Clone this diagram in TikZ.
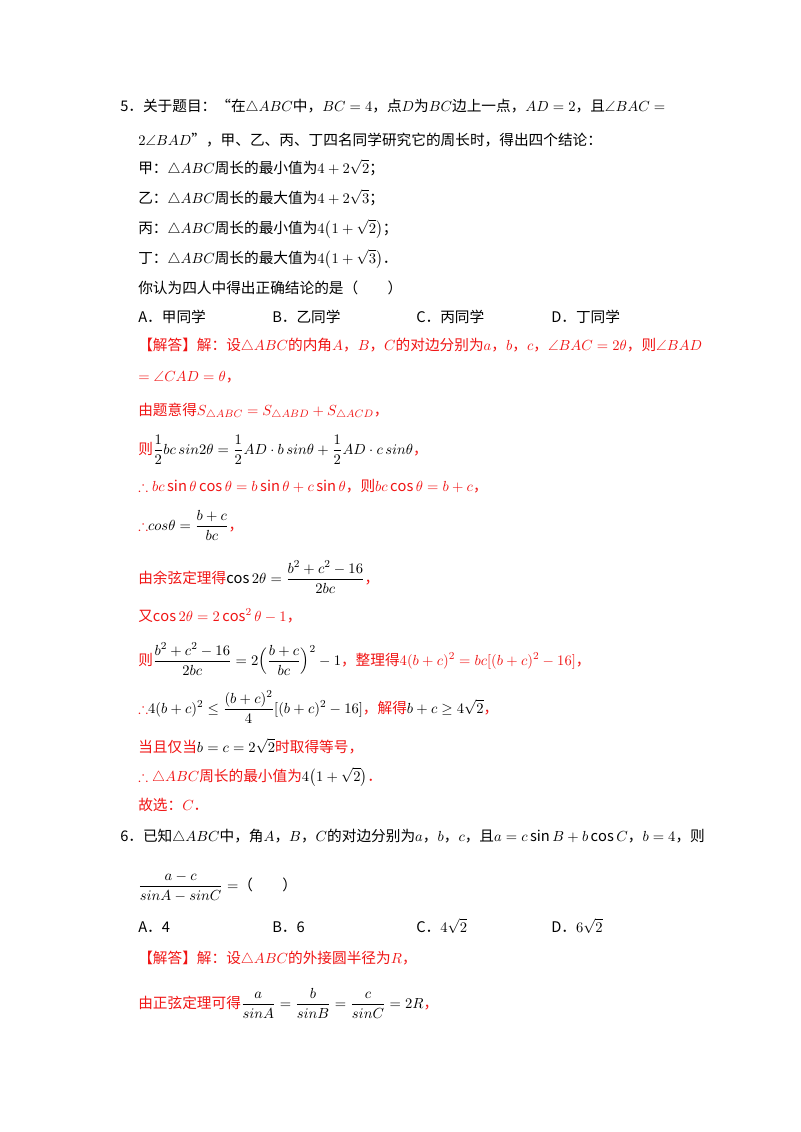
\documentclass[tikz,border=0pt]{standalone}
\usepackage{fontspec}
\usepackage{amsmath,amssymb}
\setmainfont{Noto Sans CJK SC}
\definecolor{ans}{RGB}{240,20,20}
\begin{document}
\begin{tikzpicture}[x=0.75pt,y=-0.75pt,
  t/.style={anchor=base west,inner sep=0pt,font=\fontsize{11}{13}\selectfont},
  r/.style={t,text=ans}]
\useasboundingbox (0,0) rectangle (800,1132);
\node[t] (l1) at (120,111) {5．关于题目：“在$\triangle ABC$中，$BC=4$，点$D$为$BC$边上一点，$AD=2$，且$\angle BAC=$};
\node[t] (l2) at (138,145) {$2\angle BAD$”，甲、乙、丙、丁四名同学研究它的周长时，得出四个结论：};
\node[t] (l3) at (138,173) {甲：$\triangle ABC$周长的最小值为$4+2\sqrt{2}$；};
\node[t] (l4) at (138,203) {乙：$\triangle ABC$周长的最大值为$4+2\sqrt{3}$；};
\node[t] (l5) at (138,233) {丙：$\triangle ABC$周长的最小值为$4\bigl(1+\sqrt{2}\bigr)$；};
\node[t] (l6) at (138,263) {丁：$\triangle ABC$周长的最大值为$4\bigl(1+\sqrt{3}\bigr)$．};
\node[t] (l7) at (138,293) {你认为四人中得出正确结论的是（\qquad）};
\node[t] (oa) at (138,322) {A．甲同学};
\node[t] (ob) at (272,322) {B．乙同学};
\node[t] (oc) at (416,322) {C．丙同学};
\node[t] (od) at (551,322) {D．丁同学};
\node[r] (s1) at (138,350) {【解答】解：设$\triangle ABC$的内角$A$，$B$，$C$的对边分别为$a$，$b$，$c$，$\angle BAC=2\theta$，则$\angle BAD$};
\node[r] (s2) at (138,381) {$=\angle CAD=\theta$，};
\node[r] (s3) at (138,415) {由题意得$S_{\triangle ABC}=S_{\triangle ABD}+S_{\triangle ACD}$，};
\node[r] (s4) at (138,454) {则\textcolor{black}{$\dfrac12 bc\,sin2\theta=\dfrac12 AD\cdot b\,sin\theta+\dfrac12 AD\cdot c\,sin\theta$}，};
\node[r] (s5) at (138,491) {$\therefore bc\sin\theta\cos\theta=b\sin\theta+c\sin\theta$，则$bc\cos\theta=b+c$，};
\node[r] (s6) at (138,530) {$\therefore$\textcolor{black}{$cos\theta=\dfrac{b+c}{bc}$}，};
\node[r] (s7) at (138,583) {由余弦定理得\textcolor{black}{$\cos2\theta=\dfrac{b^2+c^2-16}{2bc}$}，};
\node[r] (s8) at (138,621) {又$\cos2\theta=2\cos^2\theta-1$，};
\node[r] (s9) at (138,665) {则\textcolor{black}{$\dfrac{b^2+c^2-16}{2bc}=2\Bigl(\dfrac{b+c}{bc}\Bigr)^2-1$}，整理得$4(b+c)^2=bc[(b+c)^2-16]$，};
\node[r] (s10) at (138,713) {$\therefore$\textcolor{black}{$4(b+c)^2\le\dfrac{(b+c)^2}{4}[(b+c)^2-16]$}，解得\textcolor{black}{$b+c\ge4\sqrt2$}，};
\node[r] (s11) at (138,752) {当且仅当\textcolor{black}{$b=c=2\sqrt2$}时取得等号，};
\node[r] (s12) at (138,781) {$\therefore\triangle ABC$周长的最小值为\textcolor{black}{$4\bigl(1+\sqrt2\bigr)$}．};
\node[r] (s13) at (138,810) {故选：$C$．};
\node[t] (q6) at (120,841) {6．已知$\triangle ABC$中，角$A$，$B$，$C$的对边分别为$a$，$b$，$c$，且$a=c\sin B+b\cos C$，$b=4$，则};
\node[t] (q6b) at (138,890) {$\dfrac{a-c}{sinA-sinC}=$（\qquad）};
\node[t] (pa) at (138,932) {A．4};
\node[t] (pb) at (272,932) {B．6};
\node[t] (pc) at (416,932) {C．$4\sqrt2$};
\node[t] (pd) at (551,932) {D．$6\sqrt2$};
\node[r] (u1) at (138,963) {【解答】解：设$\triangle ABC$的外接圆半径为$R$，};
\node[r] (u2) at (138,1008) {由正弦定理可得\textcolor{black}{$\dfrac{a}{sinA}=\dfrac{b}{sinB}=\dfrac{c}{sinC}=2R$}，};
\end{tikzpicture}
\end{document}
